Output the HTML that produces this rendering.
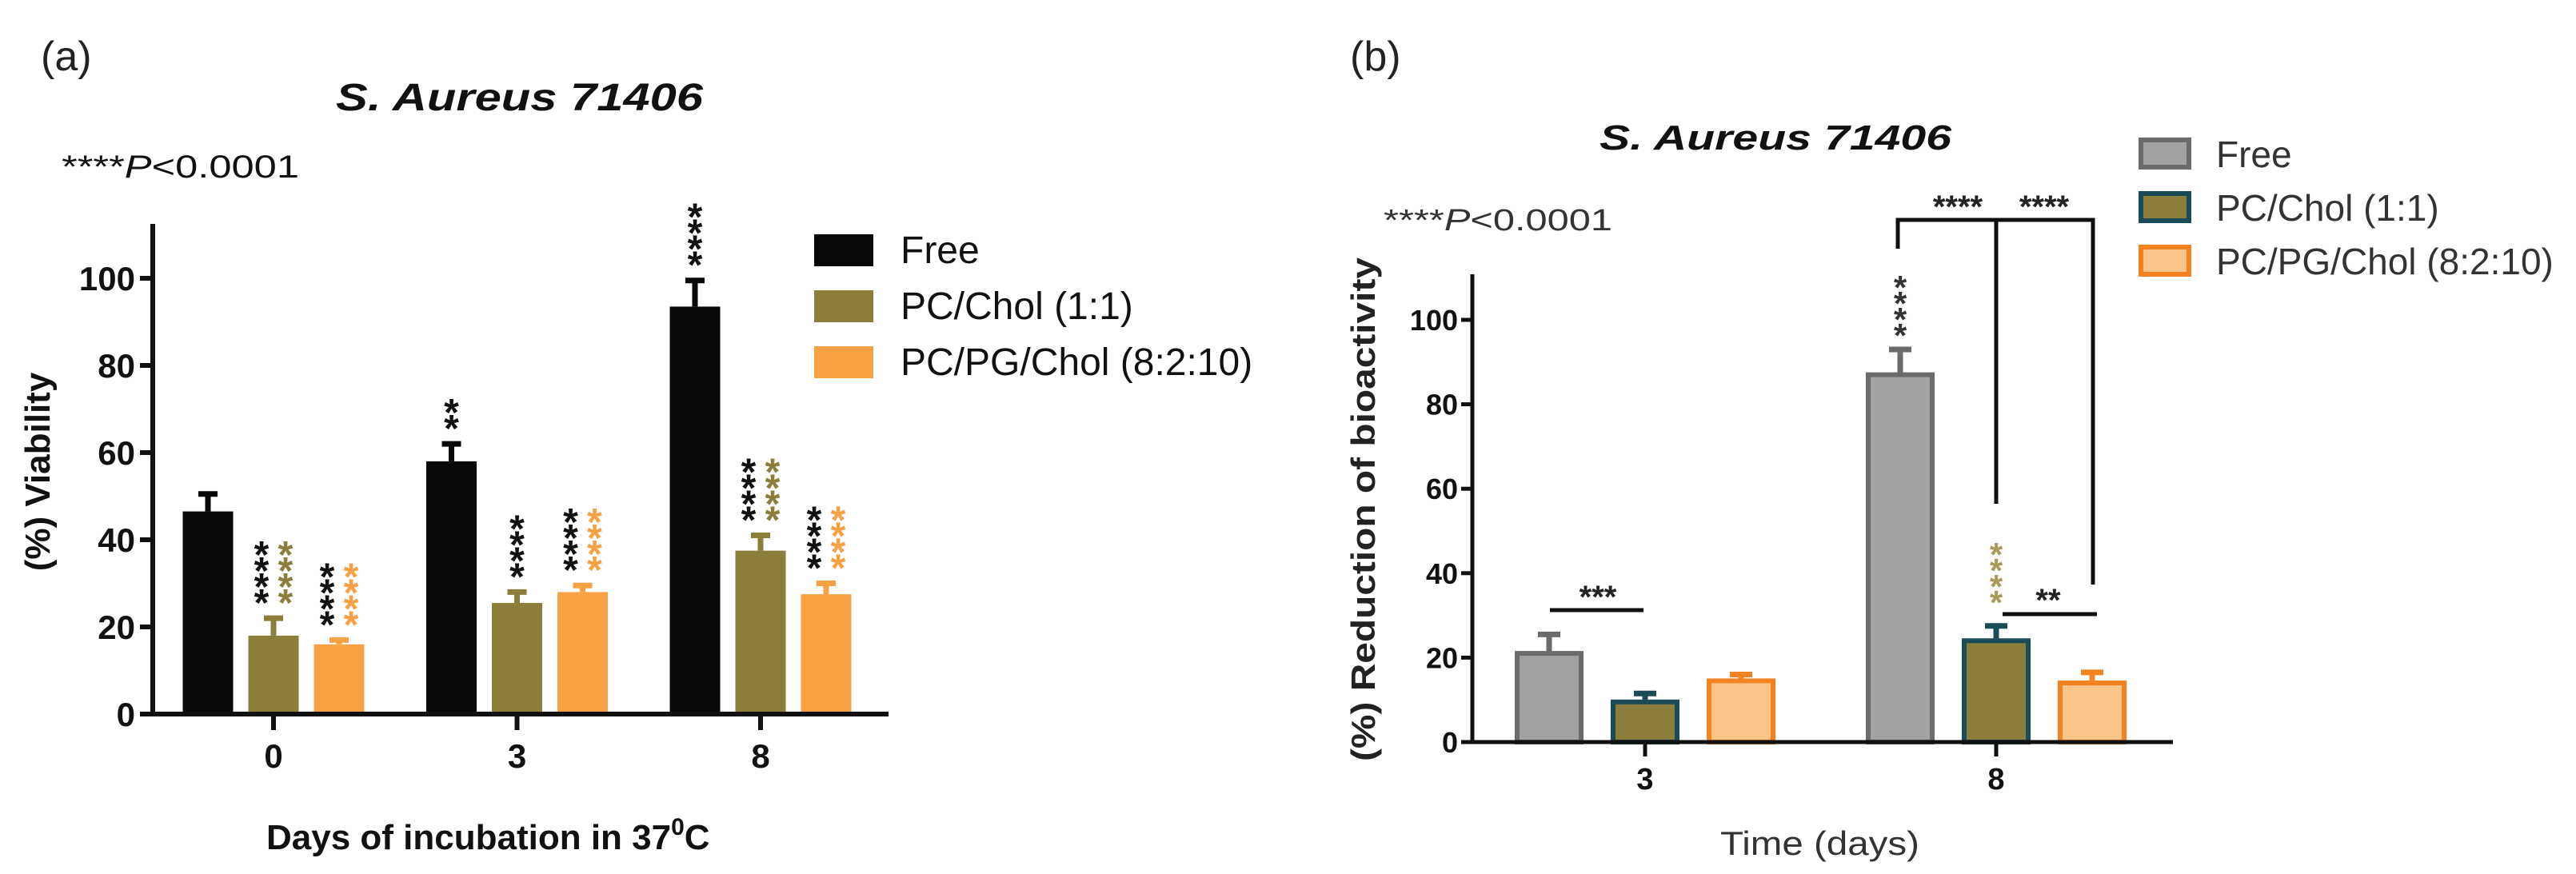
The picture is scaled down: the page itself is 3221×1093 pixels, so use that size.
<!DOCTYPE html>
<html><head><meta charset="utf-8"><style>
html,body{margin:0;padding:0;background:#fff;}
svg{display:block;font-family:"Liberation Sans",Arial,sans-serif;}
</style></head><body>
<svg id="fig" width="3221" height="1093" viewBox="0 0 3221 1093" xmlns="http://www.w3.org/2000/svg">
<rect x="0" y="0" width="3221" height="1093" fill="#fff"/>
<g id="pa"></g>
<g id="pb"></g>
</svg>
<script>
// ---- Panel (a) data ----
const catsA = ["0", "3", "8"];
const freeA = [46.5, 58, 93.5];
const freeErrA = [4, 4, 6];
const cholA = [18, 25.5, 37.5];
const cholErrA = [4, 2.5, 3.5];
const pgA = [16, 28, 27.5];
const pgErrA = [1, 1.5, 2.5];
const ticksA = [0, 20, 40, 60, 80, 100];
const starsA = [
  [[], [["****","#111"],["****","#8b7d3a"]], [["****","#111"],["****","#f7a145"]]],
  [[["**","#111"]], [["****","#111"]], [["****","#111"],["****","#f7a145"]]],
  [[["****","#111"]], [["****","#111"],["****","#8b7d3a"]], [["****","#111"],["****","#f7a145"]]]
];
// ---- Panel (b) data ----
const catsB = ["3", "8"];
const freeB = [21, 87];
const freeErrB = [4.5, 6];
const cholB = [9.5, 24];
const cholErrB = [2, 3.5];
const pgB = [14.5, 14];
const pgErrB = [1.5, 2.5];
const ticksB = [0, 20, 40, 60, 80, 100];

const NS = "http://www.w3.org/2000/svg";
function mk(parent, tag, attrs, txt) {
  const e = document.createElementNS(NS, tag);
  for (const k in attrs) e.setAttribute(k, attrs[k]);
  if (txt !== undefined) e.textContent = txt;
  parent.appendChild(e);
  return e;
}
function nm(e, n, i) {
  
  
  return e;
}

// ================= Panel A =================
(function(){
  const g = document.getElementById('pa');
  const x0 = 191, base = 893, k = 5.45;
  const ya = v => base - v * k;
  const groupX = i => 342 + i * 304.5;
  const pitch = 82, bw = 63;
  const series = [
    {v: freeA, e: freeErrA, c: "#070908", n: "free"},
    {v: cholA, e: cholErrA, c: "#8b7d3a", n: "pc-chol"},
    {v: pgA, e: pgErrA, c: "#f7a145", n: "pc-pg-chol"}
  ];
  series.forEach((s, si) => {
    catsA.forEach((c, ci) => {
      const cx = groupX(ci) + (si - 1) * pitch;
      const top = ya(s.v[ci]), et = ya(s.v[ci] + s.e[ci]);
      let r = mk(g, 'rect', {x: cx - bw/2, y: top, width: bw, height: base - top, fill: s.c});
      
      
      let l = mk(g, 'path', {d: `M${cx} ${top} V${et} M${cx-12} ${et} H${cx+12}`, stroke: s.c, 'stroke-width': 7, fill: 'none'});
      
      
      const cols = starsA[ci][si];
      const bottom = et - 20;
      cols.forEach((col, qi) => {
        const sx = cx - (cols.length - 1) * 15 + qi * 30;
        const n = col[0].length;
        for (let j = 0; j < n; j++) {
          const cy = bottom - 10 - j * 20;
          let t = mk(g, 'text', {x: sx, y: cy + 27, 'font-size': 48, 'font-weight': 'bold', fill: col[1], 'text-anchor': 'middle'}, '*');
          
          
        }
      });
    });
  });
  let ax = mk(g, 'path', {d: `M${x0} 280 V${base} M${x0-16} ${base} H1111`, stroke: '#111', 'stroke-width': 6, fill: 'none'});
  nm(ax, 'axes-lines');
  ticksA.forEach(t => {
    const y = ya(t);
    nm(mk(g, 'line', {x1: x0-16, x2: x0, y1: y, y2: y, stroke: '#111', 'stroke-width': 6}), 'y-tick');
    nm(mk(g, 'text', {x: x0-22, y: y+15, 'font-size': 42, 'font-weight': 'bold', 'text-anchor': 'end', fill: '#111'}, String(t)), 'y-tick-label');
  });
  catsA.forEach((c, i) => {
    const x = groupX(i);
    nm(mk(g, 'line', {x1: x, x2: x, y1: base, y2: base+20, stroke: '#111', 'stroke-width': 6}), 'x-tick');
    nm(mk(g, 'text', {x: x, y: 960, 'font-size': 42, 'font-weight': 'bold', 'text-anchor': 'middle', fill: '#111'}, c), 'x-tick-label');
  });
  nm(mk(g, 'text', {x: 51, y: 88, 'font-size': 52, fill: '#222'}, '(a)'), 'panel-label-a');
  nm(mk(g, 'text', {x: 420, y: 138, 'font-size': 48, 'font-weight': 'bold', 'font-style': 'italic', fill: '#111', textLength: 459, lengthAdjust: 'spacingAndGlyphs'}, 'S. Aureus 71406'), 'chart-title-a');
  const p = nm(mk(g, 'text', {x: 77, y: 222, 'font-size': 40, fill: '#111', textLength: 297, lengthAdjust: 'spacingAndGlyphs'}), 'p-value-note-a');
  p.innerHTML = '****<tspan font-style="italic">P</tspan>&lt;0.0001';
  const xl = nm(mk(g, 'text', {x: 333, y: 1062, 'font-size': 44, 'font-weight': 'bold', fill: '#111'}), 'x-axis-title-a');
  xl.innerHTML = 'Days of incubation in 37<tspan dy="-18" font-size="30">0</tspan><tspan dy="18">C</tspan>';
  nm(mk(g, 'text', {x: 0, y: 0, 'font-size': 44, 'font-weight': 'bold', fill: '#111', 'text-anchor': 'middle', transform: 'translate(62,590) rotate(-90)'}, '(%) Viability'), 'y-axis-title-a');
  const leg = [["Free","#070908"],["PC/Chol (1:1)","#8b7d3a"],["PC/PG/Chol (8:2:10)","#f7a145"]];
  leg.forEach((l, i) => {
    const y = 293 + i * 70;
    nm(mk(g, 'rect', {x: 1018, y: y, width: 74, height: 40, fill: l[1]}), 'legend-swatch-a');
    nm(mk(g, 'text', {x: 1126, y: y + 36, 'font-size': 48, fill: '#111'}, l[0]), 'legend-entry-a');
  });
})();

// ================= Panel B =================
(function(){
  const g = document.getElementById('pb');
  const x0 = 1841, base = 928, k = 5.28;
  const yb = v => base - v * k;
  const groupX = i => 2057 + i * 439;
  const pitch = 120, bw = 80;
  const series = [
    {v: freeB, e: freeErrB, f: "#a1a2a4", s: "#6b6b6b", n: "free"},
    {v: cholB, e: cholErrB, f: "#8b7d3a", s: "#1c4b58", n: "pc-chol"},
    {v: pgB, e: pgErrB, f: "#fbc58a", s: "#f58220", n: "pc-pg-chol"}
  ];
  series.forEach((s, si) => {
    catsB.forEach((c, ci) => {
      const cx = groupX(ci) + (si - 1) * pitch;
      const top = yb(s.v[ci]), et = yb(s.v[ci] + s.e[ci]);
      let r = mk(g, 'rect', {x: cx - bw/2, y: top, width: bw, height: base - top, fill: s.f, stroke: s.s, 'stroke-width': 6});
      
      
      let l = mk(g, 'path', {d: `M${cx} ${top} V${et} M${cx-14} ${et} H${cx+14}`, stroke: s.s, 'stroke-width': 7, fill: 'none'});
      
      
    });
  });
  function starCol(x, bottom, n, col) {
    for (let j = 0; j < n; j++) {
      const cy = bottom - 9 - j * 20;
      const t = mk(g, 'text', {x: x, y: cy + 24, 'font-size': 42, 'font-weight': 'bold', fill: col, 'text-anchor': 'middle'}, '*');
      
      
    }
  }
  starCol(groupX(1) - pitch, yb(freeB[1] + freeErrB[1]) - 18, 4, '#333');
  starCol(groupX(1), yb(cholB[1] + cholErrB[1]) - 30, 4, '#a89a5a');
  nm(mk(g, 'path', {d: 'M2373 311 V275 H2617 V731 M2496 275 V630', stroke: '#111', 'stroke-width': 5, fill: 'none'}), 'significance-bracket-day8');
  nm(mk(g, 'text', {x: 2448, y: 272, 'font-size': 40, 'font-weight': 'bold', 'text-anchor': 'middle', fill: '#222'}, '****'), 'bracket-label');
  nm(mk(g, 'text', {x: 2556, y: 272, 'font-size': 40, 'font-weight': 'bold', 'text-anchor': 'middle', fill: '#222'}, '****'), 'bracket-label');
  nm(mk(g, 'line', {x1: 1938, x2: 2055, y1: 763, y2: 763, stroke: '#111', 'stroke-width': 5}), 'significance-bracket-day3');
  nm(mk(g, 'text', {x: 1998, y: 760, 'font-size': 40, 'font-weight': 'bold', 'text-anchor': 'middle', fill: '#222'}, '***'), 'bracket-label');
  nm(mk(g, 'line', {x1: 2504, x2: 2622, y1: 768, y2: 768, stroke: '#111', 'stroke-width': 5}), 'significance-bracket-day8-low');
  nm(mk(g, 'text', {x: 2561, y: 764, 'font-size': 40, 'font-weight': 'bold', 'text-anchor': 'middle', fill: '#222'}, '**'), 'bracket-label');
  nm(mk(g, 'path', {d: `M${x0} 343 V${base} M${x0-14} ${base} H2717`, stroke: '#111', 'stroke-width': 5, fill: 'none'}), 'axes-lines');
  ticksB.forEach(t => {
    const y = yb(t);
    nm(mk(g, 'line', {x1: x0-14, x2: x0, y1: y, y2: y, stroke: '#111', 'stroke-width': 5}), 'y-tick');
    nm(mk(g, 'text', {x: x0-18, y: y+13, 'font-size': 36, 'font-weight': 'bold', 'text-anchor': 'end', fill: '#111'}, String(t)), 'y-tick-label');
  });
  catsB.forEach((c, i) => {
    const x = groupX(i);
    nm(mk(g, 'line', {x1: x, x2: x, y1: base, y2: base+18, stroke: '#111', 'stroke-width': 5}), 'x-tick');
    nm(mk(g, 'text', {x: x, y: 987, 'font-size': 38, 'font-weight': 'bold', 'text-anchor': 'middle', fill: '#111'}, c), 'x-tick-label');
  });
  nm(mk(g, 'text', {x: 1688, y: 88, 'font-size': 52, fill: '#222'}, '(b)'), 'panel-label-b');
  nm(mk(g, 'text', {x: 2000, y: 187, 'font-size': 44, 'font-weight': 'bold', 'font-style': 'italic', fill: '#111', textLength: 440, lengthAdjust: 'spacingAndGlyphs'}, 'S. Aureus 71406'), 'chart-title-b');
  const p = nm(mk(g, 'text', {x: 1730, y: 288, 'font-size': 38, fill: '#333', textLength: 286, lengthAdjust: 'spacingAndGlyphs'}), 'p-value-note-b');
  p.innerHTML = '****<tspan font-style="italic">P</tspan>&lt;0.0001';
  nm(mk(g, 'text', {x: 2151, y: 1069, 'font-size': 42, fill: '#333', textLength: 249, lengthAdjust: 'spacingAndGlyphs'}, 'Time (days)'), 'x-axis-title-b');
  nm(mk(g, 'text', {x: 0, y: 0, 'font-size': 42, 'font-weight': 'bold', fill: '#222', 'text-anchor': 'middle', textLength: 630, lengthAdjust: 'spacingAndGlyphs', transform: 'translate(1719,637) rotate(-90)'}, '(%) Reduction of bioactivity'), 'y-axis-title-b');
  const leg = [["Free","#a1a2a4","#6b6b6b"],["PC/Chol (1:1)","#8b7d3a","#1c4b58"],["PC/PG/Chol (8:2:10)","#fbc58a","#f58220"]];
  leg.forEach((l, i) => {
    const y = 175 + i * 67;
    nm(mk(g, 'rect', {x: 2677, y: y, width: 60, height: 34, fill: l[1], stroke: l[2], 'stroke-width': 6}), 'legend-swatch-b');
    nm(mk(g, 'text', {x: 2771, y: y + 34, 'font-size': 46, fill: '#333'}, l[0]), 'legend-entry-b');
  });
})();
</script>
</body></html>
